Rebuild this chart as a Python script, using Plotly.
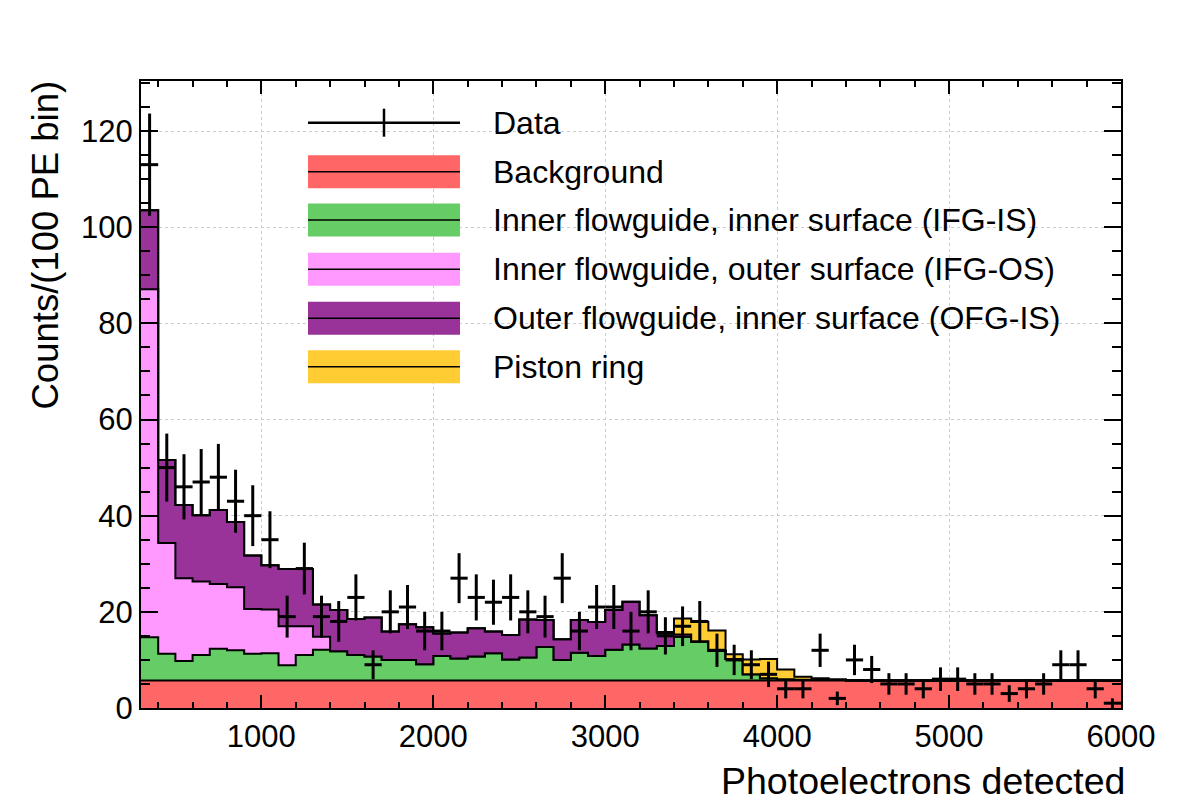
import numpy as np
import plotly.graph_objects as go

# ---------------- data (100 PE bins, 300 .. 6000 PE) ----------------
bin_low = [300, 400, 500, 600, 700, 800, 900, 1000, 1100, 1200,
           1300, 1400, 1500, 1600, 1700, 1800, 1900, 2000, 2100, 2200,
           2300, 2400, 2500, 2600, 2700, 2800, 2900, 3000, 3100, 3200,
           3300, 3400, 3500, 3600, 3700, 3800, 3900, 4000, 4100, 4200,
           4300, 4400, 4500, 4600, 4700, 4800, 4900, 5000, 5100, 5200,
           5300, 5400, 5500, 5600, 5700, 5800, 5900]
bin_width = 100

data_counts = [113, 50, 46, 47, 48, 43, 40, 35, 19, 29,
               19, 18, 23, 9, 20, 21, 16, 16, 27, 23,
               22, 23, 20, 19, 27, 16, 21, 21, 16, 20,
               15, 17, 18, 12, 10, 9, 7, 4, 4, 12,
               2, 10, 8, 5, 5, 4, 6, 6, 5, 5,
               3, 4, 5, 9, 9, 4, 1]

background = [5.7, 5.7, 5.7, 5.7, 5.7, 5.7, 5.7, 5.7, 5.7, 5.7,
              5.7, 5.7, 5.7, 5.7, 5.7, 5.7, 5.7, 5.7, 5.7, 5.7,
              5.7, 5.7, 5.7, 5.7, 5.7, 5.7, 5.7, 5.7, 5.7, 5.7,
              5.7, 5.7, 5.7, 5.7, 5.7, 5.7, 5.7, 5.7, 5.7, 5.7,
              5.7, 5.7, 5.7, 5.7, 5.7, 5.7, 5.7, 5.7, 5.7, 5.7,
              5.7, 5.7, 5.7, 5.7, 5.7, 5.7, 5.7]

ifg_is = [9.0, 5.6, 4.1, 5.3, 6.6, 6.3, 5.6, 5.7, 3.2, 5.3,
          6.4, 6.1, 5.3, 5.0, 4.3, 4.3, 3.4, 5.1, 4.6, 5.0,
          5.7, 4.4, 4.8, 7.0, 4.3, 5.8, 5.1, 6.4, 7.5, 6.7,
          7.2, 9.1, 8.1, 6.2, 4.5, 1.3, 0.5, 0.3, 0.2, 0.1,
          0.1, 0.0, 0.0, 0.0, 0.0, 0.0, 0.0, 0.0, 0.0, 0.0,
          0.0, 0.0, 0.0, 0.0, 0.0, 0.0, 0.0]

ifg_os = [72.4, 23.0, 17.2, 15.3, 13.5, 13.1, 9.3, 9.1, 8.1, 6.0,
          2.7, 0.0, 0.0, 0.0, 0.0, 0.0, 0.0, 0.0, 0.0, 0.0,
          0.0, 0.0, 0.0, 0.0, 0.0, 0.0, 0.0, 0.0, 0.0, 0.0,
          0.0, 0.0, 0.0, 0.0, 0.0, 0.0, 0.0, 0.0, 0.0, 0.0,
          0.0, 0.0, 0.0, 0.0, 0.0, 0.0, 0.0, 0.0, 0.0, 0.0,
          0.0, 0.0, 0.0, 0.0, 0.0, 0.0, 0.0]

ofg_is = [16.4, 17.3, 15.2, 13.8, 15.4, 13.6, 11.1, 9.2, 11.9, 11.9,
          6.7, 8.6, 7.5, 8.1, 5.9, 7.4, 7.7, 4.7, 5.4, 5.9,
          4.5, 5.1, 7.9, 5.6, 4.3, 6.8, 7.1, 8.3, 8.9, 6.9,
          2.6, 0.5, 0.1, 0.0, 0.0, 0.0, 0.0, 0.0, 0.0, 0.0,
          0.0, 0.0, 0.0, 0.0, 0.0, 0.0, 0.0, 0.0, 0.0, 0.0,
          0.0, 0.0, 0.0, 0.0, 0.0, 0.0, 0.0]

piston_ring = [0.0, 0.0, 0.0, 0.0, 0.0, 0.0, 0.0, 0.0, 0.0, 0.0,
               0.0, 0.0, 0.0, 0.0, 0.0, 0.0, 0.0, 0.0, 0.0, 0.0,
               0.0, 0.0, 0.0, 0.0, 0.0, 0.0, 0.0, 0.0, 0.0, 0.0,
               0.3, 3.3, 4.0, 4.2, 1.0, 3.1, 4.0, 2.0, 0.6, 0.4,
               0.2, 0.1, 0.0, 0.0, 0.0, 0.0, 0.0, 0.0, 0.0, 0.0,
               0.0, 0.0, 0.0, 0.0, 0.0, 0.0, 0.0]

layer_names = ["Background",
               "Inner flowguide, inner surface (IFG-IS)",
               "Inner flowguide, outer surface (IFG-OS)",
               "Outer flowguide, inner surface (OFG-IS)",
               "Piston ring"]
layer_values = [background, ifg_is, ifg_os, ofg_is, piston_ring]
layer_colors = ["#ff6666", "#66cc66", "#ff99ff", "#993399", "#ffcc33"]

x_title = "Photoelectrons detected"
y_title = "Counts/(100 PE bin)"

# ---------------- geometry ----------------
W, H = 1182, 805
L, R, T, B = 141, 1121, 81, 708
FONT = "Liberation Sans, Arial, Helvetica, sans-serif"


def px(x):
    return (x - L) / (R - L)


def py(y):
    return (B - y) / (B - T)


edges = np.append(np.array(bin_low, dtype=float), bin_low[-1] + bin_width)
centers = np.array(bin_low, dtype=float) + bin_width / 2

fig = go.Figure()

cum = np.zeros(len(bin_low))
for i, (name, vals, col) in enumerate(zip(layer_names, layer_values, layer_colors)):
    cum = cum + np.array(vals, dtype=float)
    fig.add_trace(go.Scatter(
        x=edges, y=np.append(cum, cum[-1]), mode="lines", name=name,
        line=dict(shape="hv", color="black", width=2),
        fill="tozeroy" if i == 0 else "tonexty", fillcolor=col,
        showlegend=False, hoverinfo="skip"))

counts = np.array(data_counts, dtype=float)
fig.add_trace(go.Scatter(
    x=centers, y=counts, mode="markers", name="Data",
    marker=dict(size=1, color="rgba(0,0,0,0)"),
    error_y=dict(type="data", array=np.sqrt(counts), color="black", thickness=3, width=0),
    error_x=dict(type="constant", value=bin_width / 2, color="black", thickness=3, width=0),
    showlegend=False))

# ---------------- manual legend ----------------
shapes = []
annotations = []
row_y = [122.7, 171.7, 220.0, 269.3, 318.3, 366.7]
sx0, sx1, tx = 308, 460, 491
half_h = 16.5
LEG_FS = 32
# data entry
shapes.append(dict(type="line", xref="paper", yref="paper", x0=px(sx0), x1=px(sx1),
                   y0=py(row_y[0]), y1=py(row_y[0]), line=dict(color="black", width=2.5)))
shapes.append(dict(type="line", xref="paper", yref="paper", x0=px((sx0 + sx1) / 2), x1=px((sx0 + sx1) / 2),
                   y0=py(row_y[0] - 14), y1=py(row_y[0] + 14), line=dict(color="black", width=2.5)))
annotations.append(dict(xref="paper", yref="paper", x=px(tx), y=py(row_y[0]), text="Data",
                        showarrow=False, xanchor="left", yanchor="middle",
                        font=dict(size=LEG_FS, color="black", family=FONT)))
for j, (name, col) in enumerate(zip(layer_names, layer_colors)):
    yc = row_y[j + 1]
    shapes.append(dict(type="rect", xref="paper", yref="paper", x0=px(sx0), x1=px(sx1),
                       y0=py(yc + half_h), y1=py(yc - half_h), fillcolor=col, line=dict(width=0)))
    shapes.append(dict(type="line", xref="paper", yref="paper", x0=px(sx0), x1=px(sx1),
                       y0=py(yc), y1=py(yc), line=dict(color="black", width=1.5)))
    annotations.append(dict(xref="paper", yref="paper", x=px(tx), y=py(yc), text=name,
                            showarrow=False, xanchor="left", yanchor="middle",
                            font=dict(size=LEG_FS, color="black", family=FONT)))

# axis titles
annotations.append(dict(xref="paper", yref="paper", x=px(1127), y=py(781), text=x_title,
                        showarrow=False, xanchor="right", yanchor="middle",
                        font=dict(size=37.5, color="black", family=FONT)))
annotations.append(dict(xref="paper", yref="paper", x=px(45), y=py(79), text=y_title, textangle=-90,
                        showarrow=False, xanchor="center", yanchor="top",
                        font=dict(size=36.5, color="black", family=FONT)))

fig.update_layout(
    width=W, height=H,
    margin=dict(l=L, r=W - R, t=T, b=H - B, pad=0),
    paper_bgcolor="white", plot_bgcolor="white",
    font=dict(family=FONT, color="black"),
    shapes=shapes, annotations=annotations,
    showlegend=False,
    xaxis=dict(range=[300, 6000], tick0=0, dtick=1000, ticks="inside", ticklen=13, tickwidth=1.5,
               tickcolor="black", mirror="allticks", showline=True, linecolor="black", linewidth=2,
               showgrid=True, gridcolor="#cccccc", griddash="dot", gridwidth=1.3, zeroline=False,
               tickfont=dict(size=31, family=FONT, color="black"),
               minor=dict(tick0=0, dtick=200, ticks="inside", ticklen=6, tickwidth=1.5,
                          tickcolor="black", showgrid=False)),
    yaxis=dict(range=[0, 130.4], tick0=0, dtick=20, ticks="inside", ticklen=17, tickwidth=1.5,
               tickcolor="black", mirror="allticks", showline=True, linecolor="black", linewidth=2,
               showgrid=True, gridcolor="#cccccc", griddash="dot", gridwidth=1.3, zeroline=False,
               tickfont=dict(size=31, family=FONT, color="black"),
               minor=dict(tick0=0, dtick=5, ticks="inside", ticklen=9, tickwidth=1.5,
                          tickcolor="black", showgrid=False)),
)

fig.write_html("out.html")
